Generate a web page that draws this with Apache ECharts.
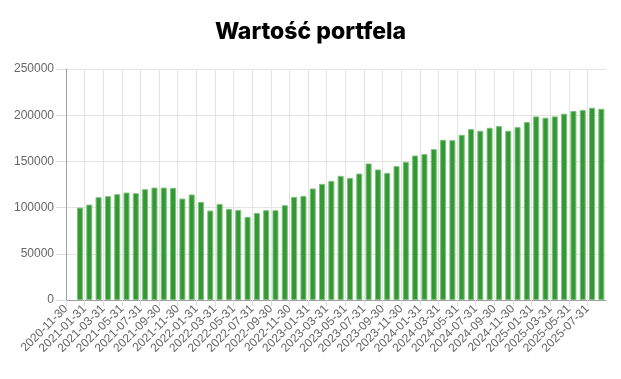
<!DOCTYPE html>
<html>
<head>
<meta charset="utf-8">
<script src="https://cdn.jsdelivr.net/npm/echarts@6/dist/echarts.min.js"></script>
<style>
html,body{margin:0;padding:0;background:#fff;}
#chart{width:621px;height:379px;}
</style>
</head>
<body>
<div id="chart"></div>
<script>
const title = 'Wartość portfela';
const tickLabels = ['2020-11-30','2021-01-31','2021-03-31','2021-05-31','2021-07-31','2021-09-30','2021-11-30',
  '2022-01-31','2022-03-31','2022-05-31','2022-07-31','2022-09-30','2022-11-30',
  '2023-01-31','2023-03-31','2023-05-31','2023-07-31','2023-09-30','2023-11-30',
  '2024-01-31','2024-03-31','2024-05-31','2024-07-31','2024-09-30','2024-11-30',
  '2025-01-31','2025-03-31','2025-05-31','2025-07-31'];
const values = [100000,103300,111300,112400,114500,116300,115600,119900,121700,121700,
  121400,109800,114200,106200,96800,104000,98600,97500,90000,94300,
  97200,97200,102600,111600,112700,120700,125700,129000,134400,132200,
  136900,147800,141300,137600,144900,149600,156400,157900,163300,173400,
  173000,178800,185000,183200,186400,188200,183200,187100,192600,198700,
  197300,198700,201600,204500,205600,208100,207000];
const yTicks = [0,50000,100000,150000,200000,250000];

const chart = echarts.init(document.getElementById('chart'));
const slots = values.length + 1;
chart.setOption({
  animation: false,
  title: {
    text: title, left: 'center', top: 16,
    textStyle: {fontFamily: 'Inter', fontWeight: 800, fontSize: 23, color: '#000'}
  },
  grid: {left: 66, right: 15, top: 69, bottom: 79},
  xAxis: {
    type: 'value', min: 0, max: slots, interval: 2,
    axisLine: {show: true, onZero: false, lineStyle: {color: '#9e9e9e', width: 1}},
    axisTick: {show: true, length: 6, lineStyle: {color: '#dcdcdc'}},
    splitLine: {show: true, showMaxLine: false, lineStyle: {color: '#e3e3e3', width: 1}},
    axisLabel: {
      rotate: 45, margin: 7, color: '#666', fontSize: 12, fontFamily: 'Liberation Sans',
      showMaxLabel: false,
      formatter: v => tickLabels[v / 2] || ''
    }
  },
  yAxis: {
    type: 'value', min: yTicks[0], max: yTicks[yTicks.length - 1], interval: 50000,
    axisLine: {show: true, lineStyle: {color: '#9e9e9e', width: 1}},
    axisTick: {show: true, length: 10, lineStyle: {color: '#dcdcdc'}},
    splitLine: {show: true, lineStyle: {color: '#e3e3e3', width: 1}},
    axisLabel: {margin: 12, color: '#666', fontSize: 12, fontFamily: 'Liberation Sans',
      formatter: v => String(v)}
  },
  series: [{
    type: 'bar',
    data: values.map((v, i) => [i + 1.5, v]),
    barWidth: 6,
    itemStyle: {color: '#339933', borderColor: '#80c080', borderWidth: 1}
  }]
});
</script>
</body>
</html>
